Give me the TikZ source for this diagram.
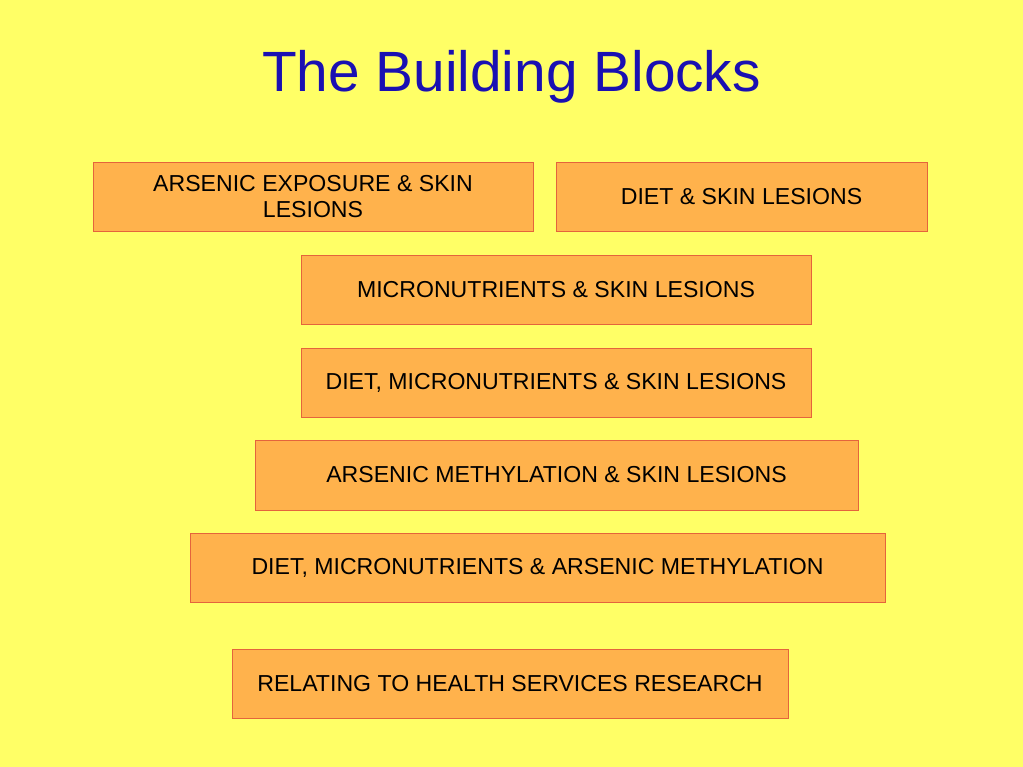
\documentclass[tikz,border=0pt]{standalone}
\usepackage{fontspec}
\setmainfont{Liberation Sans}
\definecolor{bgyellow}{RGB}{255,255,102}
\definecolor{boxfill}{RGB}{255,178,76}
\definecolor{boxline}{RGB}{228,100,60}
\definecolor{titleblue}{RGB}{26,16,178}
\tikzset{
  block/.style={draw=boxline, line width=0.8pt, fill=boxfill, inner sep=0pt, align=center,
    font=\fontsize{23.1}{26}\selectfont, text=black},
  heading/.style={font=\fontsize{56.8}{60}\selectfont, text=titleblue, inner sep=0pt, anchor=base}
}
\begin{document}
\begin{tikzpicture}[x=1pt,y=-1pt]
\fill[bgyellow] (0,0) rectangle (1023,767);
\useasboundingbox (0,0) rectangle (1023,767);
\node[heading] (title) at (511.5,92) {The Building Blocks};
\node[block, minimum width=440pt, minimum height=69pt] (b1) at (313,196.5) {\raisebox{-1pt}{\parbox{440pt}{\centering ARSENIC EXPOSURE \& SKIN\\LESIONS}}};
\node[block, minimum width=371pt, minimum height=69pt] (b2) at (741.5,196.5) {\raisebox{-1pt}{DIET \& SKIN LESIONS}};
\node[block, minimum width=510pt, minimum height=69pt] (b3) at (556,289.5) {\raisebox{-1pt}{MICRONUTRIENTS \& SKIN LESIONS}};
\node[block, minimum width=510pt, minimum height=69pt] (b4) at (556,382.5) {\raisebox{-1pt}{DIET, MICRONUTRIENTS \& SKIN LESIONS}};
\node[block, minimum width=603pt, minimum height=70pt] (b5) at (556.5,475) {\raisebox{-1pt}{ARSENIC METHYLATION \& SKIN LESIONS}};
\node[block, minimum width=695pt, minimum height=69pt] (b6) at (537.5,567.5) {\raisebox{-1pt}{DIET, MICRONUTRIENTS \& ARSENIC METHYLATION}};
\node[block, minimum width=556pt, minimum height=69pt] (b7) at (510,683.5) {\raisebox{-1pt}{RELATING TO HEALTH SERVICES RESEARCH}};
\end{tikzpicture}
\end{document}
